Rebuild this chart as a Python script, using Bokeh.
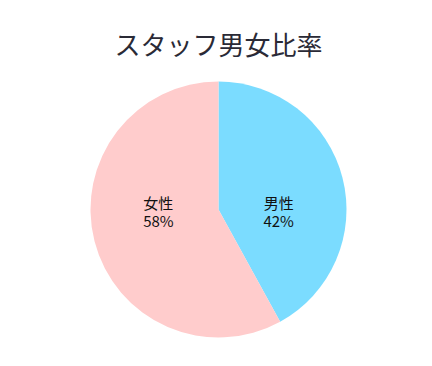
import math
from bokeh.plotting import figure
from bokeh.models import Range1d, ColumnDataSource
from bokeh.core.properties import value
from bokeh.embed import file_html
from bokeh.resources import INLINE

title = "スタッフ男女比率"
categories = ["男性", "女性"]
percents = [42, 58]
colors = ["#7BDCFF", "#FFCCCC"]

W, H = 416, 350
p = figure(width=W, height=H, output_backend="svg", toolbar_location=None,
           x_range=Range1d(0, W), y_range=Range1d(0, H), min_border=0)
p.axis.visible = False
p.grid.visible = False
p.outline_line_color = None
p.background_fill_color = "white"
p.border_fill_color = "white"

cx, cy, r = 218, 141, 128
total = sum(percents)
starts, ends, lx, names, pcts = [], [], [], [], []
acc = 0
for c, v in zip(categories, percents):
    a0 = math.pi / 2 - 2 * math.pi * acc / total
    acc += v
    a1 = math.pi / 2 - 2 * math.pi * acc / total
    starts.append(a0)
    ends.append(a1)
    mid = (a0 + a1) / 2
    lx.append(cx + 0.485 * r * math.cos(mid))
    names.append(c)
    pcts.append(f"{v}%")

src = ColumnDataSource(dict(start=starts, end=ends, color=colors, lx=lx,
                            name=names, pct=pcts,
                            ny=[cy + 7] * len(names), py=[cy - 11] * len(names)))
p.wedge(x=cx, y=cy, radius=r, radius_units="screen", start_angle="start",
        end_angle="end", direction="clock", fill_color="color", line_color=None,
        source=src)
p.text(x="lx", y="ny", text="name", source=src, text_align="center",
       text_baseline="middle", text_font=value("Noto Sans CJK JP"),
       text_font_size="15px", text_color="#111111")
p.text(x="lx", y="py", text="pct", source=src, text_align="center",
       text_baseline="middle", text_font=value("Noto Sans CJK JP"),
       text_font_size="15px", text_color="#111111")
p.text(x=[cx], y=[307], text=[title], text_align="center", text_baseline="middle",
       text_font=value("Noto Sans CJK JP"), text_font_size="26px",
       text_color="#2a2a36")

open("out.html", "w").write(file_html(p, INLINE))
